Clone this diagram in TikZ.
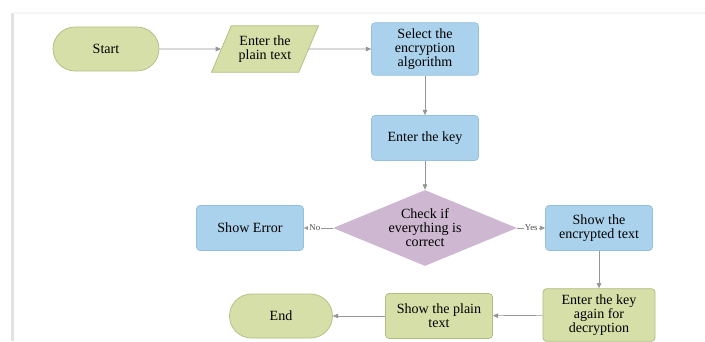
\documentclass[tikz,border=0pt]{standalone}
\usepackage{fontspec}
\setmainfont{Liberation Serif}
\usetikzlibrary{shapes.geometric,arrows.meta}
\definecolor{termgreen}{RGB}{214,223,167}
\definecolor{termedge}{RGB}{176,188,128}
\definecolor{procblue}{RGB}{170,210,237}
\definecolor{procedge}{RGB}{150,192,222}
\definecolor{decpurple}{RGB}{206,183,209}
\definecolor{flowgray}{RGB}{150,150,150}
\definecolor{framegray}{RGB}{226,226,226}

\begin{document}
\begin{tikzpicture}[x=0.02cm,y=-0.02cm,
	every node/.style={font=\fontsize{8}{8}\selectfont,align=center,text=black},
	term/.style={draw=termedge,fill=termgreen,rounded corners=0.44cm,minimum width=2.12cm,minimum height=0.88cm},
	inout/.style={draw=termedge,fill=termgreen,trapezium,trapezium left angle=67,trapezium right angle=113,minimum width=2.14cm,minimum height=0.88cm,inner xsep=1pt},
	proc/.style={draw=procedge,fill=procblue,rounded corners=2pt,minimum width=2.14cm,minimum height=0.9cm},
	okproc/.style={draw=termedge,fill=termgreen,rounded corners=2pt,minimum width=2.14cm,minimum height=0.9cm},
	decide/.style={fill=decpurple,diamond,aspect=2.4,inner sep=0pt,minimum width=3.68cm,minimum height=1.52cm},
	flow/.style={draw=flowgray,thin,-{Triangle[length=3pt,width=2.6pt]}},
	tag/.style={font=\fontsize{5}{5}\selectfont,fill=white,inner sep=0.6pt,text=black!70}]
		\useasboundingbox (0,0) rectangle (705,341);
		% PAGE EDGES
		\draw [framegray,line width=1.4pt] (12.5,13) -- (12.5,341);
		\draw [black!4,line width=0.8pt] (13,13) -- (705,13);
		% TOP ROW
		\node [term] (start) at (106,49) {Start};
		\node [inout] (plain) at (265,49) {Enter the\\plain text};
		\node [proc] (algo) at (425,49) {Select the\\encryption\\algorithm};
		% MIDDLE
		\node [proc] (key) at (425,138) {Enter the key};
		\node [decide] (check) at (425,228) {Check if\\everything is\\correct};
		\node [proc] (error) at (250,228) {Show Error};
		\node [proc] (cipher) at (599,228) {Show the\\encrypted text};
		% BOTTOM ROW
		\node [okproc,minimum width=2.24cm] (again) at (599,315) {Enter the key\\again for\\decryption};
		\node [okproc] (result) at (439,316) {Show the plain\\text};
		\node [term,minimum width=2.06cm] (end) at (281,316) {End};
		% ARROWS
		\draw [flow] (start) -- (plain);
		\draw [flow] (plain) -- (algo);
		\draw [flow] (algo) -- (key);
		\draw [flow] (key) -- (check);
		\draw [flow] (check) -- node [tag,pos=0.62] {No} (error);
		\draw [flow] (check) -- node [tag,pos=0.5] {Yes} (cipher);
		\draw [flow] (cipher) -- (again);
		\draw [flow] (again) -- (result);
		\draw [flow] (result) -- (end);
\end{tikzpicture}
\end{document}
